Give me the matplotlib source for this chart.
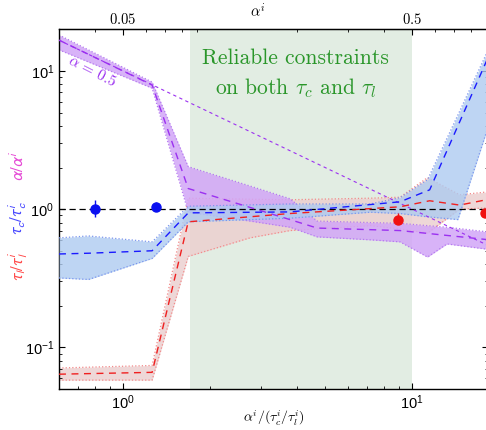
import numpy as np
import matplotlib.pyplot as plt
from matplotlib.ticker import NullFormatter

plt.rcParams['font.family'] = 'sans-serif'
plt.rcParams['font.sans-serif'] = ['Liberation Sans', 'DejaVu Sans']
plt.rcParams['mathtext.fontset'] = 'cm'

# top axis: alpha^i = ALPHA_SCALE * x
ALPHA_SCALE = 0.05
ALPHA_REF = 0.5
reliable_span = (1.7, 10.0)

# alpha / alpha^i
alpha_x = [0.6, 1.26, 1.68, 3.78, 4.69, 9.08, 20.0]
alpha_mid = [16.7, 7.9, 1.41, 0.84, 0.73, 0.70, 0.59]
alpha_band_x = [0.6, 1.26, 1.68, 2.75, 3.78, 4.69, 7.16, 9.08, 11.3, 13.2, 20.0]
alpha_hi = [18.2, 8.3, 2.03, 1.47, 1.19, 0.82, 0.80, 0.79, 0.76, 0.74, 0.67]
alpha_lo = [14.2, 7.5, 0.95, 0.82, 0.74, 0.63, 0.60, 0.58, 0.45, 0.56, 0.50]

# tau_c / tau_c^i
tauc_x = [0.6, 0.76, 1.26, 1.68, 3.78, 9.08, 11.5, 20.0]
tauc_mid = [0.474, 0.48, 0.50, 0.94, 0.955, 1.13, 1.38, 19.0]
tauc_band_x = [0.6, 0.76, 1.26, 1.68, 3.78, 7.16, 9.08, 11.3, 14.4, 20.0]
tauc_hi = [0.62, 0.64, 0.58, 1.05, 1.09, 1.09, 1.21, 1.63, 4.8, 21.0]
tauc_lo = [0.318, 0.31, 0.44, 0.81, 0.86, 0.95, 0.93, 0.88, 0.84, 6.9]

# tau_l / tau_l^i
taul_x = [0.6, 1.26, 1.68, 3.78, 9.08, 11.5, 14.6, 20.0]
taul_mid = [0.064, 0.066, 0.81, 0.93, 1.04, 1.15, 1.07, 1.22]
taul_band_x = [0.6, 1.26, 1.68, 2.75, 3.78, 7.16, 9.08, 11.3, 14.6, 20.0]
taul_hi = [0.071, 0.074, 1.20, 1.18, 1.17, 1.20, 1.22, 1.69, 1.27, 1.36]
taul_lo = [0.058, 0.058, 0.455, 0.62, 0.70, 0.76, 0.72, 0.67, 1.00, 1.03]

# measured points
blue_pts_x = [0.80, 1.30]
blue_pts_y = [1.0, 1.04]
blue_err_lo = [0.12, 0.07]
blue_err_hi = [0.17, 0.09]
red_pts_x = [8.95, 17.9]
red_pts_y = [0.84, 0.94]
red_err_lo = [0.04, 0.06]
red_err_hi = [0.10, 0.06]

c_alpha, c_alpha_fill = '#9b30f0', '#d2a6f7'
c_tauc, c_tauc_fill = '#1a1aff', '#aecbf0'
c_taul, c_taul_fill = '#f02020', '#ecd0d0'

fig = plt.figure(figsize=(4.86, 4.30), dpi=100)
ax = fig.add_axes([0.1214, 0.0953, 0.8827, 0.8366])
ax.set_xscale('log')
ax.set_yscale('log')
ax.set_xlim(0.6, 18.3)
ax.set_ylim(0.05, 20)

ax.axvspan(*reliable_span, color='#e2ede3', lw=0, zorder=0)

# uncertainty bands
ax.fill_between(taul_band_x, taul_lo, taul_hi, color=c_taul_fill, alpha=0.85, lw=0, zorder=1)
ax.plot(taul_band_x, taul_lo, ':', color='#f28a8a', lw=0.9, zorder=1.1)
ax.plot(taul_band_x, taul_hi, ':', color='#f28a8a', lw=0.9, zorder=1.1)

ax.fill_between(alpha_band_x, alpha_lo, alpha_hi, color=c_alpha_fill, alpha=0.85, lw=0, zorder=2)
ax.plot(alpha_band_x, alpha_lo, ':', color='#b57af0', lw=0.9, zorder=2.1)
ax.plot(alpha_band_x, alpha_hi, ':', color='#b57af0', lw=0.9, zorder=2.1)

ax.fill_between(tauc_band_x, tauc_lo, tauc_hi, color=c_tauc_fill, alpha=0.8, lw=0, zorder=3)
ax.plot(tauc_band_x, tauc_lo, ':', color='#7a95ee', lw=0.9, zorder=3.1)
ax.plot(tauc_band_x, tauc_hi, ':', color='#7a95ee', lw=0.9, zorder=3.1)

# reference lines
ax.axhline(1.0, color='black', ls=(0, (5, 3)), lw=0.9, zorder=4)
ref_x = np.array(ax.get_xlim())
ax.plot(ref_x, ALPHA_REF / (ALPHA_SCALE * ref_x), color=c_alpha, ls=(0, (3, 3)), lw=0.8, zorder=4)

# median curves
ax.plot(alpha_x, alpha_mid, color=c_alpha, ls=(0, (5, 4)), lw=1.0, zorder=5)
ax.plot(taul_x, taul_mid, color=c_taul, ls=(0, (5, 4)), lw=1.0, zorder=5)
ax.plot(tauc_x, tauc_mid, color=c_tauc, ls=(0, (5, 4)), lw=1.0, zorder=5)

ax.errorbar(blue_pts_x, blue_pts_y, yerr=[blue_err_lo, blue_err_hi], fmt='o',
            color='#0a10f0', ms=6.5, elinewidth=1, capsize=0, zorder=6)
ax.errorbar(red_pts_x, red_pts_y, yerr=[red_err_lo, red_err_hi], fmt='o',
            color='#f01010', ms=6.5, elinewidth=1, capsize=0, zorder=6, clip_on=False)

ax.text(0.78, 10.0, r'$\alpha\,=\,\mathit{0.5}$', color=c_alpha, fontsize=11,
        rotation=-27, ha='center', va='center', zorder=7)
ax.text(3.95, 9.4, 'Reliable constraints\non both $\\tau_c$ and $\\tau_l$',
        color='#2a962a', fontsize=15.5, family='cmr10', ha='center', va='center',
        linespacing=1.45, zorder=7)

ax.tick_params(which='both', direction='in', top=False, right=True, labelsize=10.5)
ax.tick_params(which='major', length=4.5, width=0.8)
ax.tick_params(which='minor', length=2.5, width=0.6)
ax.xaxis.set_minor_formatter(NullFormatter())
ax.yaxis.set_minor_formatter(NullFormatter())
ax.set_xlabel(r'$\alpha^i/(\tau_c^i/\tau_l^i)$', fontsize=10, labelpad=-3)

secax = ax.secondary_xaxis('top', functions=(lambda x: x * ALPHA_SCALE,
                                             lambda a: a / ALPHA_SCALE))
secax.set_xticks([0.05, 0.5], labels=[r'$0.05$', r'$0.5$'])
secax.xaxis.set_minor_formatter(NullFormatter())
secax.tick_params(which='both', direction='in', labelsize=10.5, pad=1.5)
secax.tick_params(which='major', length=4.5, width=0.8)
secax.tick_params(which='minor', length=2.5, width=0.6)
fig.text(258 / 486, 1 - 11 / 430, r'$\alpha^i$', fontsize=10.5, ha='center', va='center')

for s in ax.spines.values():
    s.set_linewidth(1.0)

# stacked y labels
for txt, col, ypx in [(r'$\alpha/\alpha^i$', '#e64ad6', 166),
                      (r'$\tau_c/\tau_c^i$', '#4a4aff', 218),
                      (r'$\tau_l/\tau_l^i$', '#ff4a4a', 266)]:
    fig.text(18 / 486, 1 - ypx / 430, txt, color=col, fontsize=12, rotation=90,
             ha='center', va='center', math_fontfamily='stixsans')

fig.savefig('out.png', dpi=100)
